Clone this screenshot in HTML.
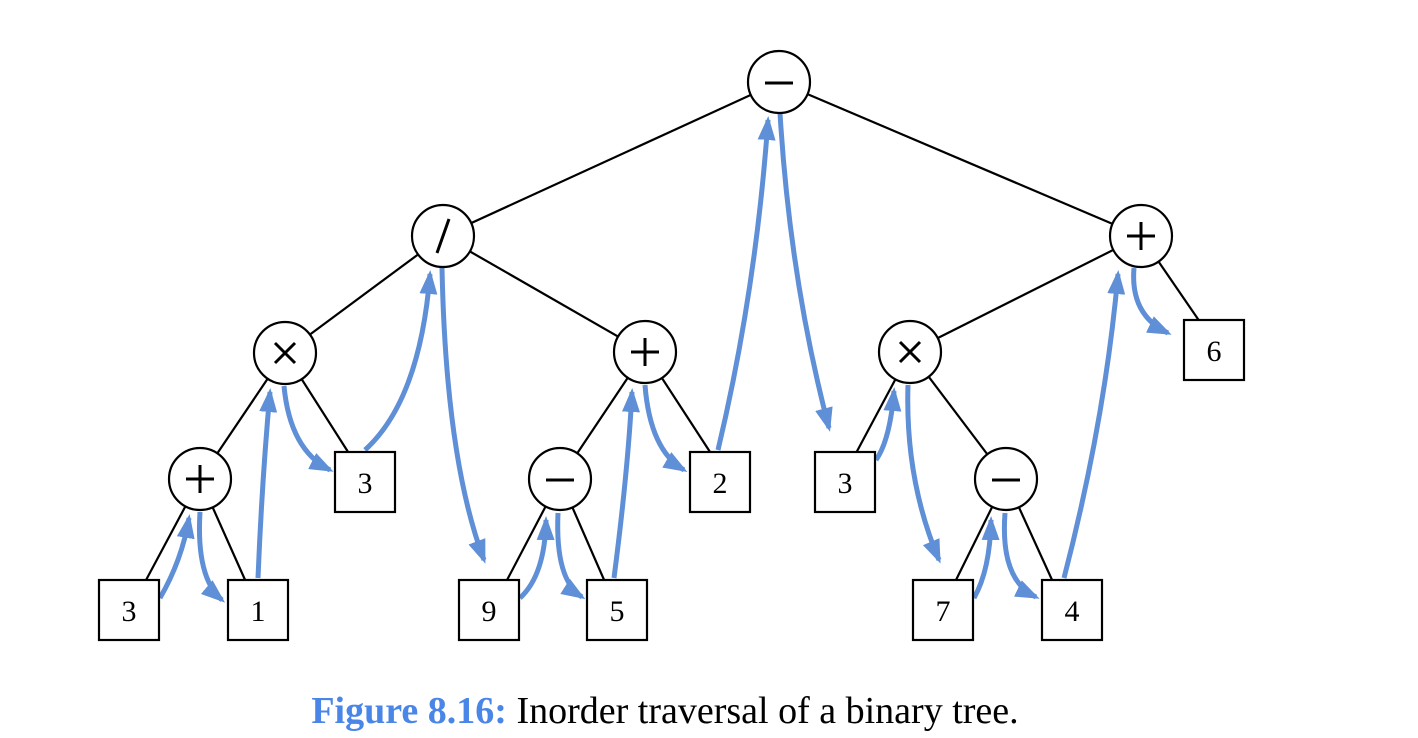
<!DOCTYPE html>
<html><head><style>
html,body{margin:0;padding:0;background:#fff;width:1418px;height:738px;overflow:hidden}
svg text{font-family:"Liberation Serif",serif}
</style></head><body>
<svg width="1418" height="738" viewBox="0 0 1418 738" xmlns="http://www.w3.org/2000/svg">
<defs>
<marker id="a" markerWidth="5" markerHeight="4" refX="4" refY="2" orient="auto" markerUnits="userSpaceOnUse" viewBox="0 0 5 4" style="overflow:visible">
<path d="M0,0 L5,2 L0,4 Z" fill="#5f8fd6"/>
</marker>
<marker id="b" markerWidth="24" markerHeight="18" refX="20" refY="9" orient="auto" markerUnits="userSpaceOnUse">
<path d="M0,0 L24,9 L0,18 Z" fill="#5f8fd6"/>
</marker>
</defs>
<g stroke="#000" stroke-width="2.2">
<line x1="779" y1="82" x2="443" y2="236"/>
<line x1="779" y1="82" x2="1141" y2="236"/>
<line x1="443" y1="236" x2="285" y2="353"/>
<line x1="443" y1="236" x2="645" y2="352"/>
<line x1="285" y1="353" x2="200" y2="479"/>
<line x1="285" y1="353" x2="350" y2="455"/>
<line x1="200" y1="479" x2="145" y2="582"/>
<line x1="200" y1="479" x2="246" y2="582"/>
<line x1="645" y1="352" x2="560" y2="479"/>
<line x1="645" y1="352" x2="712" y2="455"/>
<line x1="560" y1="479" x2="506" y2="582"/>
<line x1="560" y1="479" x2="605" y2="582"/>
<line x1="1141" y1="236" x2="910" y2="352"/>
<line x1="1141" y1="236" x2="1200" y2="322"/>
<line x1="910" y1="352" x2="855" y2="455"/>
<line x1="910" y1="352" x2="1006" y2="479"/>
<line x1="1006" y1="479" x2="955" y2="582"/>
<line x1="1006" y1="479" x2="1053" y2="582"/>
</g>
<g fill="none" stroke="#5f8fd6" stroke-width="5" marker-end="url(#b)">
<path d="M160,598 Q182,560 189,518"/>
<path d="M200,512 Q196,578 222,600"/>
<path d="M258,578 Q262,480 270,392"/>
<path d="M284,386 Q290,450 330,470"/>
<path d="M365,450 Q420,400 430,274"/>
<path d="M442,268 Q446,460 484,560"/>
<path d="M520,598 Q545,575 546,520"/>
<path d="M558,513 Q555,580 582,597"/>
<path d="M614,578 Q628,470 632,392"/>
<path d="M645,385 Q650,450 684,470"/>
<path d="M718,450 Q756,290 768,120"/>
<path d="M780,113 Q790,280 829,428"/>
<path d="M876,460 Q890,440 894,391"/>
<path d="M908,385 Q905,480 939,560"/>
<path d="M974,598 Q990,570 991,520"/>
<path d="M1005,513 Q1000,580 1036,597"/>
<path d="M1064,578 Q1105,420 1118,274"/>
<path d="M1134,268 Q1130,315 1168,333"/>
</g>
<g fill="#fff" stroke="#000" stroke-width="2.2">
<circle cx="779" cy="82" r="31"/>
<circle cx="443" cy="236" r="31"/>
<circle cx="1141" cy="236" r="31"/>
<circle cx="285" cy="353" r="31"/>
<circle cx="645" cy="352" r="31"/>
<circle cx="910" cy="352" r="31"/>
<circle cx="200" cy="479" r="31"/>
<circle cx="560" cy="479" r="31"/>
<circle cx="1006" cy="479" r="31"/>
<rect x="1184" y="320" width="60" height="60"/>
<rect x="335" y="452" width="60" height="60"/>
<rect x="690" y="452" width="60" height="60"/>
<rect x="815" y="452" width="60" height="60"/>
<rect x="99" y="580" width="60" height="60"/>
<rect x="228" y="580" width="60" height="60"/>
<rect x="459" y="580" width="60" height="60"/>
<rect x="587" y="580" width="60" height="60"/>
<rect x="913" y="580" width="60" height="60"/>
<rect x="1042" y="580" width="60" height="60"/>
</g>
<g stroke="#000" stroke-width="3" fill="none">
<line x1="765" y1="83" x2="793" y2="83"/>
<line x1="546" y1="480" x2="574" y2="480"/>
<line x1="992" y1="480" x2="1020" y2="480"/>
<path d="M186,479 H214 M200,465 V493"/>
<path d="M631,352 H659 M645,338 V366"/>
<path d="M1127,236 H1155 M1141,222 V250"/>
<path d="M275,343 L295,363 M295,343 L275,363"/>
<path d="M900,342 L920,362 M920,342 L900,362"/>
<path d="M449,219 L437,253"/>
</g>
<g font-size="30" text-anchor="middle" fill="#000">
<text x="1214" y="361">6</text>
<text x="365" y="493">3</text>
<text x="720" y="493">2</text>
<text x="845" y="493">3</text>
<text x="129" y="621">3</text>
<text x="258" y="621">1</text>
<text x="489" y="621">9</text>
<text x="617" y="621">5</text>
<text x="943" y="621">7</text>
<text x="1072" y="621">4</text>
</g>
<text x="665" y="723" font-size="38" text-anchor="middle"><tspan fill="#4a86e8" font-weight="bold">Figure 8.16:</tspan> Inorder traversal of a binary tree.</text>
</svg>
</body></html>
